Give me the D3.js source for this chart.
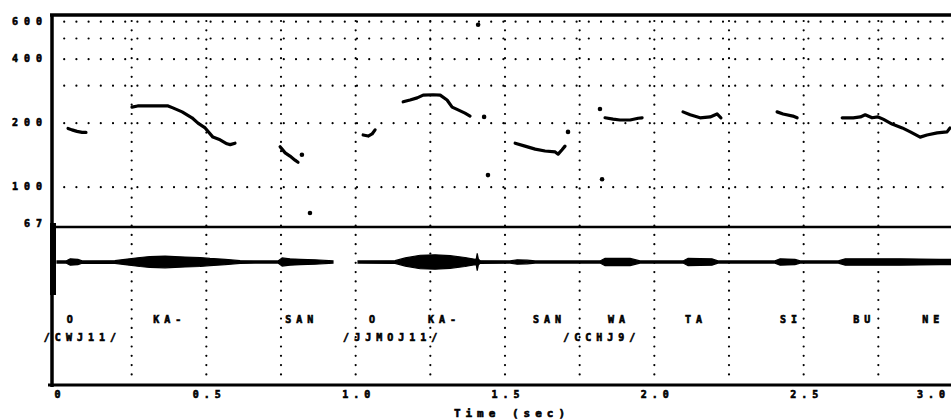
<!DOCTYPE html>
<html>
<head>
<meta charset="utf-8">
<script src="https://cdn.jsdelivr.net/npm/d3@7"></script>
<style>
body { margin: 0; background: #fff; }
svg text { font-family: "DejaVu Sans Mono", monospace; font-weight: bold; fill: #000; stroke: #000; stroke-width: 0.6px; }
</style>
</head>
<body>
<script>
// F0 contour segments, [time (sec), F0 (Hz)]
var segO1   = [[0.037,189],[0.050,186],[0.067,183],[0.084,181],[0.097,181]];
var segKA1  = [[0.251,238],[0.270,241],[0.311,241],[0.350,241],[0.372,241],[0.388,236],[0.419,226],
               [0.452,212],[0.472,200],[0.496,190],[0.522,172],[0.546,167],[0.569,160],[0.580,158.5],[0.596,161]];
var segSAN1 = [[0.747,155],[0.764,145],[0.780,140],[0.797,134],[0.807,131]];
var segO2   = [[1.025,176],[1.042,174],[1.055,178],[1.065,186]];
var segKA2  = [[1.159,252],[1.182,257],[1.206,263],[1.226,271],[1.259,272],[1.283,271],[1.306,257],
               [1.323,238],[1.343,231],[1.366,223],[1.383,216]];
var segSAN2 = [[1.534,161],[1.567,156],[1.601,151],[1.634,148],[1.668,146.5],[1.678,143],[1.691,150],[1.701,156]];
var segWA   = [[1.835,212],[1.862,209],[1.885,207],[1.919,207],[1.946,211],[1.959,212]];
var segTA   = [[2.096,226],[2.120,219],[2.153,212],[2.187,214],[2.210,221],[2.223,212]];
var segSI   = [[2.411,226],[2.431,221],[2.464,216],[2.478,212]];
var segBUNE = [[2.629,212],[2.666,212],[2.690,214],[2.706,219],[2.729,212],[2.749,214],[2.766,209],
               [2.796,198],[2.830,190],[2.857,182],[2.890,172],[2.913,176],[2.947,180],[2.980,182],[2.990,190]];
var contour = [segO1, segKA1, segSAN1, segO2, segKA2, segSAN2, segWA, segTA, segSI, segBUNE];

// isolated F0 points
var strayPoints = [[0.820,142],[0.847,75.6],[1.410,580],[1.430,214],[1.443,114],[1.711,182],[1.818,233],[1.825,109]];

// waveform envelope, [time (sec), relative amplitude]; null = no signal
var envelope = [[0,0.12],[0.030,0.12],[0.044,0.35],[0.070,0.3],[0.084,0.12],[0.194,0.15],[0.228,0.3],[0.278,0.5],
  [0.311,0.6],[0.362,0.65],[0.429,0.55],[0.479,0.5],[0.512,0.4],[0.563,0.3],[0.613,0.15],[0.663,0.12],
  [0.740,0.12],[0.754,0.45],[0.780,0.35],[0.814,0.3],[0.864,0.25],[0.924,0.12],[0.94,null],[0.99,null],
  [1.008,0.12],[1.132,0.15],[1.166,0.45],[1.216,0.75],[1.266,0.8],[1.316,0.7],[1.366,0.5],[1.400,0.3],
  [1.404,0.35],[1.407,0.95],[1.411,0.3],[1.417,0.15],[1.517,0.12],[1.541,0.25],[1.574,0.2],[1.601,0.12],
  [1.818,0.12],[1.835,0.4],[1.919,0.4],[1.952,0.12],[2.096,0.12],[2.113,0.4],[2.193,0.35],[2.213,0.12],
  [2.404,0.12],[2.421,0.35],[2.471,0.3],[2.488,0.12],[2.616,0.12],[2.639,0.35],[2.823,0.35],[2.957,0.3],[3.0,0.3]];

// segment labels
var syllables     = ["O","KA-","SAN","O","KA-","SAN","WA","TA","SI","BU","NE"];
var syllableTimes = [0.033,0.322,0.764,1.045,1.242,1.594,1.845,2.103,2.421,2.666,2.897];
var words         = ["/CWJ11/","/JJMOJ11/","/CCHJ9/"];
var wordTimes     = [-0.044,0.958,1.695];

var yTicks = [600,400,200,100,67];
var yGrid = [600,500,400,300,200,100];
var xTicks = [0,0.5,1.0,1.5,2.0,2.5,3.0];
var xGrid = [0.25,0.5,0.75,1.0,1.25,1.5,1.75,2.0,2.25,2.5,2.75];

var WIDTH = 951, HEIGHT = 420;
var FRAMELEFT = 52, TOP = 15, PITCHBOTTOM = 227, BOTTOM = 385, WAVEY = 262;

var xScale = d3.scaleLinear().domain([0,3]).range([57, 953]);
var yScale = d3.scaleLog().domain([65,645]).range([PITCHBOTTOM, TOP]);
var ampScale = d3.scaleLinear().domain([0,1]).range([0,9]);

var svg = d3.select('body').append('svg')
    .attr('width', WIDTH)
    .attr('height', HEIGHT);

// dotted grid
svg.append('g').selectAll('line')
  .data(yGrid).enter().append('line')
  .attr('x1', FRAMELEFT).attr('x2', WIDTH)
  .attr('y1', function (d) {return yScale(d)})
  .attr('y2', function (d) {return yScale(d)})
  .attr('stroke', '#000').attr('stroke-width', 2.2)
  .attr('stroke-linecap', 'round').attr('stroke-dasharray', '0 12.2');

svg.append('g').selectAll('line')
  .data(xGrid).enter().append('line')
  .attr('x1', function (d) {return xScale(d)})
  .attr('x2', function (d) {return xScale(d)})
  .attr('y1', TOP + 6).attr('y2', BOTTOM - 6)
  .attr('stroke', '#000').attr('stroke-width', 2.2)
  .attr('stroke-linecap', 'round').attr('stroke-dasharray', '0 9.3');

// frame
var frame = svg.append('g').attr('stroke', '#000');
frame.append('line').attr('x1', FRAMELEFT - 2).attr('x2', WIDTH).attr('y1', TOP).attr('y2', TOP).attr('stroke-width', 3.5);
frame.append('line').attr('x1', FRAMELEFT).attr('x2', FRAMELEFT).attr('y1', TOP - 1).attr('y2', BOTTOM + 2).attr('stroke-width', 3.5);
frame.append('line').attr('x1', FRAMELEFT - 4).attr('x2', WIDTH).attr('y1', BOTTOM).attr('y2', BOTTOM).attr('stroke-width', 3);
frame.append('line').attr('x1', FRAMELEFT).attr('x2', WIDTH).attr('y1', yScale(65)).attr('y2', yScale(65)).attr('stroke-width', 2.5);
svg.append('rect').attr('x', FRAMELEFT - 2).attr('y', PITCHBOTTOM - 4)
  .attr('width', 6).attr('height', 72).attr('fill', '#000');

// waveform
var area = d3.area()
  .defined(function (d) {return d[1] !== null})
  .x(function (d) {return xScale(d[0])})
  .y0(function (d) {return WAVEY + ampScale(d[1])})
  .y1(function (d) {return WAVEY - ampScale(d[1])});
svg.append('path').attr('d', area(envelope))
  .attr('fill', '#000').attr('stroke', '#000').attr('stroke-width', 1.2);

// F0 contour
var line = d3.line()
  .x(function (d) {return xScale(d[0])})
  .y(function (d) {return yScale(d[1])});
svg.append('g').selectAll('path')
  .data(contour).enter().append('path')
  .attr('d', line)
  .attr('fill', 'none').attr('stroke', '#000').attr('stroke-width', 3.2)
  .attr('stroke-linecap', 'round').attr('stroke-linejoin', 'round');

svg.append('g').selectAll('circle')
  .data(strayPoints).enter().append('circle')
  .attr('cx', function (d) {return xScale(d[0])})
  .attr('cy', function (d) {return yScale(d[1])})
  .attr('r', 2.3);

// axis labels
svg.append('g').selectAll('text')
  .data(yTicks).enter().append('text')
  .attr('x', 48).attr('y', function (d) {return yScale(d) + 3})
  .attr('text-anchor', 'end')
  .style('font-size', '10px').style('letter-spacing', '6px')
  .text(function (d) {return d});

svg.append('g').selectAll('text')
  .data(xTicks).enter().append('text')
  .attr('x', function (d, i) {return i === xTicks.length - 1 ? WIDTH - 1 : xScale(d) + 3})
  .attr('y', 398)
  .attr('text-anchor', function (d, i) {return i === xTicks.length - 1 ? 'end' : 'middle'})
  .style('font-size', '10px').style('letter-spacing', '5px')
  .text(function (d) {return d === 0 ? '0' : d.toFixed(1)});

svg.append('text')
  .attr('x', 512).attr('y', 417)
  .attr('text-anchor', 'middle')
  .style('font-size', '11px').style('letter-spacing', '5px')
  .text('Time (sec)');

// segment labels
svg.append('g').selectAll('text')
  .data(syllables).enter().append('text')
  .attr('x', function (d, i) {return xScale(syllableTimes[i])})
  .attr('y', 323)
  .style('font-size', '10px').style('letter-spacing', '5px')
  .text(function (d) {return d});

svg.append('g').selectAll('text')
  .data(words).enter().append('text')
  .attr('x', function (d, i) {return xScale(wordTimes[i])})
  .attr('y', 341)
  .style('font-size', '10px').style('letter-spacing', '5px')
  .text(function (d) {return d});
</script>
</body>
</html>
